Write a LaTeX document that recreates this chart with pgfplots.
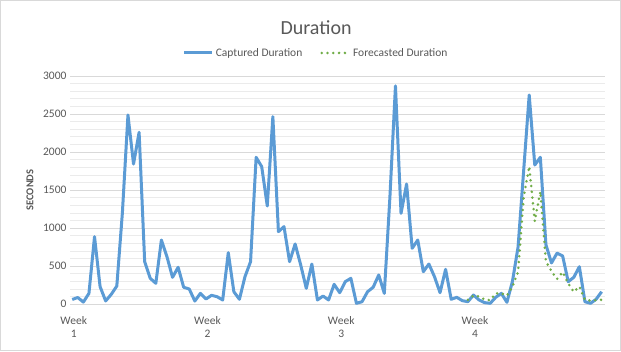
\documentclass[border=0pt]{standalone}
\usepackage{fontspec}
\setmainfont{Carlito}
\usepackage{pgfplots}
\pgfplotsset{compat=1.18}
\definecolor{cblue}{HTML}{5B9BD5}
\definecolor{cgreen}{HTML}{70AD47}
\definecolor{ctext}{HTML}{595959}
\definecolor{cgrid}{HTML}{D9D9D9}
\definecolor{cminor}{HTML}{EBEBEB}
\newcommand{\wk}[1]{\begin{tabular}{@{}c@{}}Week\\[-1pt]#1\end{tabular}}
\begin{document}
\begin{tikzpicture}[x=1pt,y=1pt]
\useasboundingbox (0,0) rectangle (621,351);
\fill[white] (0,0) rectangle (621,351);
\draw[cgrid, line width=0.8pt] (0.4,0.4) rectangle (620.6,350.6);
\begin{axis}[
  at={(70pt,47pt)}, anchor=south west,
  scale only axis, width=535pt, height=228pt,
  xmin=-0.4, xmax=95.6, ymin=0, ymax=3000,
  xtick={0,24,48,72}, xticklabels={\wk{1},\wk{2},\wk{3},\wk{4}},
  ytick={0,500,...,3000},
  minor y tick num=4,
  ymajorgrids, yminorgrids,
  major grid style={cgrid, line width=0.8pt},
  minor grid style={cminor, line width=0.6pt},
  axis line style={draw=none},
  tick style={draw=none},
  /pgf/number format/1000 sep={},
  /pgf/number format/assume math mode=true,
  y tick label style={font=\fontsize{11.5}{13}\selectfont, text=ctext},
  x tick label style={font=\fontsize{11.5}{14}\selectfont, text=ctext, yshift=-7.5pt, xshift=1.5pt},
  title={Duration},
  title style={font=\fontsize{20}{24}\selectfont, text=ctext, at={(axis description cs:0.46,1.185)}, anchor=center},
  ylabel={SECONDS},
  ylabel style={font=\bfseries\fontsize{10.5}{12}\selectfont, text=ctext, at={(axis description cs:-0.075,0.5)}, anchor=center},
  legend style={at={(axis description cs:0.46,1.101)}, anchor=center, draw=none, fill=none,
    font=\fontsize{11.5}{13}\selectfont, text=ctext, legend columns=2,
    /tikz/every even column/.append style={column sep=16pt}},
  legend image code/.code={\draw[#1] (0pt,0pt) -- (28pt,0pt);},
]
\addplot[cblue, line width=3pt, line join=round, no markers] coordinates {
(0,60)(1,85)(2,25)(3,140)(4,886)(5,228)(6,40)(7,127)(8,237)(9,1200)
(10,2487)(11,1842)(12,2259)(13,557)(14,338)(15,272)(16,842)(17,622)(18,351)(19,483)
(20,220)(21,197)(22,39)(23,140)(24,66)(25,114)(26,96)(27,53)(28,675)(29,162)
(30,62)(31,360)(32,557)(33,1930)(34,1807)(35,1290)(36,2465)(37,952)(38,1018)(39,557)
(40,790)(41,513)(42,206)(43,526)(44,53)(45,105)(46,53)(47,259)(48,149)(49,294)
(50,338)(51,9)(52,30)(53,162)(54,220)(55,382)(56,140)(57,1400)(58,2869)(59,1193)
(60,1579)(61,733)(62,842)(63,425)(64,526)(65,360)(66,149)(67,456)(68,62)(69,88)
(70,44)(71,30)(72,118)(73,53)(74,18)(75,9)(76,88)(77,140)(78,22)(79,300)
(80,750)(81,1750)(82,2750)(83,1829)(84,1930)(85,780)(86,540)(87,670)(88,632)(89,294)
(90,351)(91,491)(92,30)(93,9)(94,62)(95,162)
};
\addlegendentry{Captured Duration}
\addplot[cgreen, line width=2.8pt, line cap=round, dash pattern=on 0pt off 5.8pt, no markers] coordinates {
(71,55)(72,110)(73,100)(74,60)(75,50)(76,140)(77,140)(78,110)(79,230)
(80,420)(81,1400)(82,1810)(83,1090)(84,1480)(85,560)(86,430)(87,330)(88,420)(89,270)
(90,160)(91,230)(92,55)(93,45)(94,50)(95,55)
};
\addlegendentry{Forecasted Duration}
\end{axis}
\end{tikzpicture}
\end{document}
